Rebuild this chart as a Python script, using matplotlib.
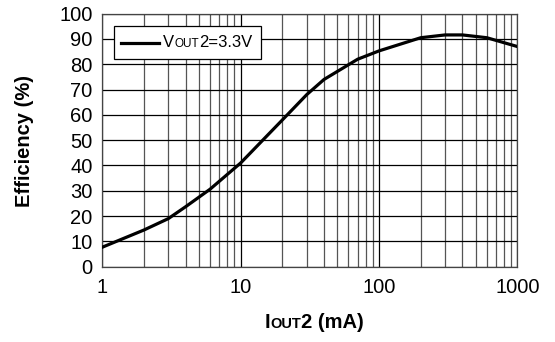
import numpy as np
import matplotlib
matplotlib.use("Agg")
import matplotlib.pyplot as plt
from matplotlib.ticker import LogLocator, FixedLocator, NullFormatter
from matplotlib.offsetbox import TextArea, HPacker, DrawingArea, AnchoredOffsetbox
from matplotlib.lines import Line2D
from matplotlib.patches import Rectangle

plt.rcParams['font.family'] = ['Liberation Sans', 'DejaVu Sans']

# efficiency curve
iout_ma = [1, 2, 3, 4, 6, 10, 20, 30, 40, 70, 100, 200, 300, 400, 600, 1000]
eff_pct = [7.7, 14.5, 19.0, 23.7, 30.6, 41.0, 58.0, 68.0, 74.0, 82.0, 85.3, 90.5, 91.6, 91.6, 90.5, 87.0]

x_ticks = [1, 10, 100, 1000]
x_ticklabels = ['1', '10', '100', '1000']
y_ticks = list(range(0, 101, 10))

W, H = 555, 342
fig = plt.figure(figsize=(W / 100, H / 100), dpi=100)
ax = fig.add_axes([0.1843, 0.2202, 0.7481, 0.7398])

ax.plot(iout_ma, eff_pct, color='black', lw=2.3, solid_joinstyle='miter', zorder=3)

ax.set_xscale('log')
ax.set_xlim(1, 1000)
ax.set_ylim(0, 100)
ax.xaxis.set_major_locator(FixedLocator(x_ticks))
ax.set_xticklabels(x_ticklabels)
ax.xaxis.set_minor_locator(LogLocator(base=10, subs=np.arange(2, 10)))
ax.xaxis.set_minor_formatter(NullFormatter())
ax.set_yticks(y_ticks)

ax.grid(which='major', axis='both', color='black', lw=0.9)
ax.grid(which='minor', axis='x', color='#555555', lw=0.9)
ax.tick_params(which='both', length=0)
ax.tick_params(axis='x', pad=8, labelsize=14.5)
ax.tick_params(axis='y', pad=7, labelsize=14.5)
for s in ax.spines.values():
    s.set_color('#444444')
    s.set_linewidth(0.9)

# y label
fig.text(25 / W, 1 - 141 / H, 'Efficiency (%)', rotation=90, fontsize=14.5, fontweight='bold',
         ha='center', va='center')

# x label with small-caps "OUT"
xl = HPacker(children=[TextArea('I', textprops=dict(fontsize=14.5, fontweight='bold')),
                       TextArea('OUT', textprops=dict(fontsize=10.5, fontweight='bold')),
                       TextArea('2 (mA)', textprops=dict(fontsize=14.5, fontweight='bold'))],
             align='baseline', pad=0, sep=0)
ab = AnchoredOffsetbox(loc='center', child=xl, frameon=False,
                       bbox_to_anchor=(314 / W, 1 - 323 / H), bbox_transform=fig.transFigure,
                       pad=0, borderpad=0)
fig.add_artist(ab)

# legend box
box = Rectangle((114 / W, 1 - 59 / H), 147 / W, 33 / H, transform=fig.transFigure,
                facecolor='white', edgecolor='black', lw=0.9, zorder=4)
fig.add_artist(box)
# DrawingArea works in points: 38 px line + 4 px gap
da = DrawingArea(30.2, 6, 0, 0)
da.add_artist(Line2D([0, 27.4], [3, 3], color='black', lw=2.3))
leg = HPacker(children=[da,
                        TextArea('V', textprops=dict(fontsize=12)),
                        TextArea('OUT', textprops=dict(fontsize=8.5)),
                        TextArea('2=3.3V', textprops=dict(fontsize=12))],
              align='baseline', pad=0, sep=0)
lb = AnchoredOffsetbox(loc='center left', child=leg, frameon=False, pad=0, borderpad=0,
                       bbox_to_anchor=(121 / W, 1 - 42.5 / H), bbox_transform=fig.transFigure)
lb.set_zorder(5)
fig.add_artist(lb)

fig.savefig('out.png', dpi=100)
